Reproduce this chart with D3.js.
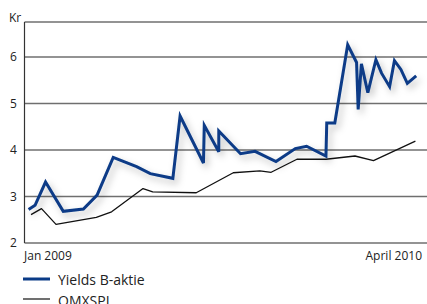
<!DOCTYPE html>
<html>
<head>
<meta charset="utf-8">
<script src="https://cdn.jsdelivr.net/npm/d3@7"></script>
<style>
  body { margin: 0; background: #fff; }
  svg { display: block; font-family: "Open Sans", "Noto Sans", sans-serif; }
</style>
</head>
<body>
<div id="chart"></div>
<script>
// Yields B-aktie vs OMXSPI, Jan 2009 - April 2010
const yieldDates = ['2009-01-03','2009-01-11','2009-01-24','2009-02-15','2009-03-12','2009-03-29',
  '2009-04-18','2009-05-17','2009-06-03','2009-07-01','2009-07-10','2009-08-08','2009-08-09',
  '2009-08-27','2009-08-27','2009-09-23','2009-10-11','2009-11-06','2009-11-30','2009-12-14',
  '2010-01-07','2010-01-08','2010-01-18','2010-02-03','2010-02-14','2010-02-16','2010-02-20',
  '2010-02-28','2010-03-10','2010-03-17','2010-03-27','2010-04-02','2010-04-10','2010-04-18','2010-04-29'];
const yieldValues = [2.72, 2.81, 3.31, 2.68, 2.73, 3.03, 3.84, 3.64, 3.49, 3.39, 4.73, 3.72, 4.53,
  3.96, 4.41, 3.92, 3.97, 3.75, 4.03, 4.08, 3.87, 4.58, 4.58, 6.26, 5.88, 4.87, 5.85,
  5.23, 5.94, 5.65, 5.36, 5.92, 5.73, 5.43, 5.59];

const omxDates = ['2009-01-06','2009-01-19','2009-02-06','2009-03-28','2009-04-16','2009-05-25',
  '2009-06-06','2009-07-30','2009-09-14','2009-10-17','2009-10-31','2009-12-02','2010-01-07',
  '2010-02-12','2010-03-07','2010-04-28'];
const omxValues = [2.61, 2.74, 2.40, 2.55, 2.67, 3.17, 3.10, 3.08, 3.51, 3.55, 3.52, 3.80, 3.80,
  3.87, 3.77, 4.19];

const yTicks = [2, 3, 4, 5, 6];
const xTickLabels = ['Jan 2009', 'April 2010'];
const legendLabels = ['Yields B-aktie', 'OMXSPI'];

const width = 427, height = 304;
const plotLeft = 24.5, plotRight = 427, plotTop = 22, plotBottom = 243;

const parse = d3.timeParse('%Y-%m-%d');
const yields = yieldDates.map((d, i) => ({ date: parse(d), value: yieldValues[i] }));
const omx = omxDates.map((d, i) => ({ date: parse(d), value: omxValues[i] }));

const svg = d3.select('#chart').append('svg')
  .attr('width', width)
  .attr('height', height);

// soft shadow under the blue line
const shadow = svg.append('defs').append('filter')
  .attr('id', 'shadow')
  .attr('x', '-10%').attr('y', '-20%')
  .attr('width', '130%').attr('height', '150%');
shadow.append('feDropShadow')
  .attr('dx', 3).attr('dy', 4)
  .attr('stdDeviation', 3.5)
  .attr('flood-color', '#000')
  .attr('flood-opacity', 0.25);

const x = d3.scaleTime()
  .domain([parse('2009-01-01'), parse('2010-04-30')])
  .range([27, 417]);

const y = d3.scaleLinear()
  .domain([2, 6.75])
  .range([plotBottom, plotTop]);

// gridlines + frame top
svg.append('g')
  .selectAll('line')
  .data(yTicks.concat([6.75]))
  .enter()
  .append('line')
    .attr('x1', plotLeft)
    .attr('x2', plotRight)
    .attr('y1', d => y(d))
    .attr('y2', d => y(d))
    .attr('stroke', '#6f6f6f')
    .attr('stroke-width', 1.5);

svg.append('line')
  .attr('x1', plotLeft).attr('x2', plotLeft)
  .attr('y1', plotTop).attr('y2', plotBottom)
  .attr('stroke', '#333')
  .attr('stroke-width', 1.2);

// y labels
svg.append('g')
  .selectAll('text')
  .data(yTicks)
  .enter()
  .append('text')
    .attr('x', 13.5)
    .attr('y', d => y(d))
    .attr('dy', '0.35em')
    .attr('text-anchor', 'middle')
    .style('font-size', '12px')
    .style('fill', '#222')
    .text(d => d);

svg.append('text')
  .attr('x', 9)
  .attr('y', plotTop - 0.5)
  .style('font-size', '12px')
  .style('fill', '#222')
  .text('Kr');

// x labels
svg.append('text')
  .attr('x', 24)
  .attr('y', 260)
  .style('font-size', '12px')
  .style('fill', '#222')
  .text(xTickLabels[0]);

svg.append('text')
  .attr('x', 422)
  .attr('y', 260)
  .attr('text-anchor', 'end')
  .style('font-size', '12px')
  .style('fill', '#222')
  .text(xTickLabels[1]);

const line = d3.line()
  .x(d => x(d.date))
  .y(d => y(d.value));

svg.append('path')
  .datum(omx)
  .attr('d', line)
  .attr('fill', 'none')
  .attr('stroke', '#111')
  .attr('stroke-width', 1.3)
  .attr('stroke-linejoin', 'round');

svg.append('path')
  .datum(yields)
  .attr('d', line)
  .attr('fill', 'none')
  .attr('stroke', '#0a3b87')
  .attr('stroke-width', 3)
  .attr('stroke-linejoin', 'miter')
  .attr('filter', 'url(#shadow)');

// legend (second entry runs off the bottom edge, as in the original)
const legend = svg.append('g');
legend.append('line')
  .attr('x1', 23).attr('x2', 50)
  .attr('y1', 279).attr('y2', 279)
  .attr('stroke', '#0a3b87')
  .attr('stroke-width', 3);
legend.append('text')
  .attr('x', 58).attr('y', 285)
  .style('font-size', '14px')
  .style('fill', '#222')
  .text(legendLabels[0]);
legend.append('line')
  .attr('x1', 23).attr('x2', 50)
  .attr('y1', 299).attr('y2', 299)
  .attr('stroke', '#222')
  .attr('stroke-width', 1.3);
legend.append('text')
  .attr('x', 58).attr('y', 306)
  .style('font-size', '14px')
  .style('fill', '#222')
  .text(legendLabels[1]);
</script>
</body>
</html>
